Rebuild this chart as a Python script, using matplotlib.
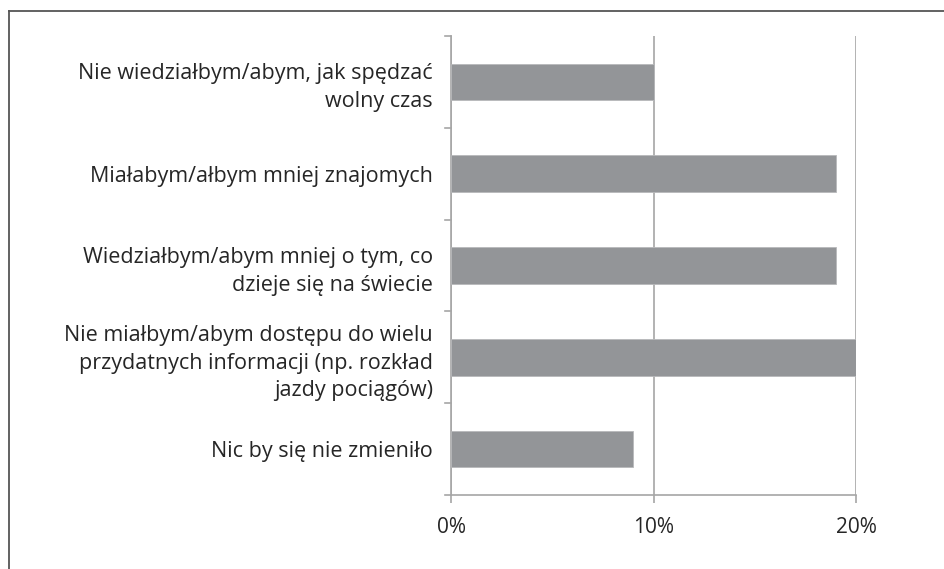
import matplotlib.pyplot as plt
from matplotlib.lines import Line2D

# Data (percent)
labels = [
    "Nie wiedziałbym/abym, jak spędzać\nwolny czas",
    "Miałabym/ałbym mniej znajomych",
    "Wiedziałbym/abym mniej o tym, co\ndzieje się na świecie",
    "Nie miałbym/abym dostępu do wielu\nprzydatnych informacji (np. rozkład\njazdy pociągów)",
    "Nic by się nie zmieniło",
]
values = [10, 19, 19, 20, 9]
xticks = [0, 10, 20]
xtick_labels = ["0%", "10%", "20%"]

plt.rcParams["font.family"] = ["Open Sans", "DejaVu Sans"]

fig = plt.figure(figsize=(9.44, 5.69), dpi=100)
ax = fig.add_axes([451 / 944, 1 - 495 / 569, (856 - 451) / 944, (495 - 36) / 569])

n = len(values)
pos = list(range(n))
ax.barh(pos, values, height=0.4, color="#939598", edgecolor="#b8b9bb", linewidth=0.6, zorder=3)

ax.set_ylim(n - 0.5, -0.5)
ax.set_xlim(0, 20)

grid_c = "#a6a6a6"
ax.set_xticks(xticks)
ax.set_xticklabels(xtick_labels, fontsize=15, color="#262626")
ax.xaxis.grid(True, color=grid_c, linewidth=1.2, zorder=0)
ax.tick_params(axis="x", length=6, width=1.2, color=grid_c, pad=10)

# category labels at centers, separator ticks between categories
ax.set_yticks(pos)
ax.set_yticklabels(labels, fontsize=15.5, color="#262626", linespacing=1.42)
ax.tick_params(axis="y", length=0, pad=13)
for b in [i + 0.5 for i in range(-1, n)]:
    ax.plot([-0.3, 0], [b, b], color=grid_c, linewidth=1.2, clip_on=False, zorder=2)

for s in ["top", "right"]:
    ax.spines[s].set_visible(False)
for s in ["left", "bottom"]:
    ax.spines[s].set_color(grid_c)
    ax.spines[s].set_linewidth(1.2)

# outer frame (only top and left edges are visible in the reference)
fig.add_artist(Line2D([8.5 / 944, 1], [1 - 10.5 / 569, 1 - 10.5 / 569], color="#555555", linewidth=1.3))
fig.add_artist(Line2D([8.5 / 944, 8.5 / 944], [0, 1 - 10.5 / 569], color="#555555", linewidth=1.3))

fig.savefig("out.png", dpi=100)
